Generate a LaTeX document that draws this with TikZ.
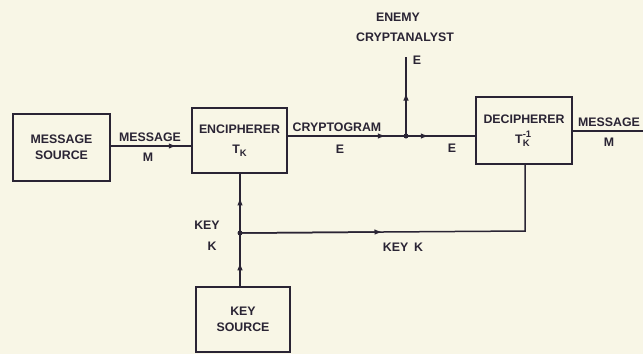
\documentclass[tikz,border=0pt]{standalone}
\usepackage{fontspec}
\setmainfont{Liberation Sans}
\usetikzlibrary{arrows.meta,calc}
\definecolor{paper}{RGB}{248,246,230}
\definecolor{ink}{RGB}{42,36,52}
\newcommand{\lettering}{\fontsize{12.4}{16}\selectfont\bfseries}
\newcommand{\smallletter}{\fontsize{9.5}{10}\selectfont\bfseries}
\begin{document}
\begin{tikzpicture}[x=1bp,y=-1bp,
  box/.style={draw=ink,line width=1.5bp,inner sep=0,align=center,text=ink,
    font=\lettering},
  lbl/.style={text=ink,font=\lettering,inner sep=0},
  wire/.style={draw=ink,line width=1.5bp},
  tip/.style={draw=ink,line width=1.5bp,-{Latex[length=8bp,width=5.5bp]}},
  jdot/.style={circle,fill=ink,inner sep=0,minimum size=5bp}]
\fill[paper] (0,0) rectangle (643,354);
\useasboundingbox (0,0) rectangle (643,354);

% boxes
\node[box,minimum width=97bp,minimum height=67bp] (msrc) at (61.5,147.5) {MESSAGE\\SOURCE};
\node[box,minimum width=95bp,minimum height=65bp] (enc) at (239.5,140.5) {ENCIPHERER\\[4bp]T\raisebox{-3bp}{\smallletter K}};
\node[box,minimum width=96bp,minimum height=67bp] (dec) at (524,130.5) {DECIPHERER\\[4bp]T\makebox[0pt][l]{\raisebox{6bp}{\smallletter -1}}\raisebox{-3bp}{\smallletter K}\hphantom{\smallletter -}};
\node[box,minimum width=94bp,minimum height=65bp] (ksrc) at (243,319.5) {KEY\\SOURCE};

% junctions and free ends
\coordinate (mline) at (150,146);
\node[jdot] (j) at (406,136) {};
\node[jdot] (k) at (240,233) {};
\coordinate (ea) at (406,57);
\coordinate (corner) at (525,231);
\coordinate (mout) at (643,131);

% message line
\draw[wire] (msrc.east |- mline) -- (enc.west |- mline);
\draw[tip] (msrc.east |- mline) -- ($(msrc.east |- mline)!0.82!(enc.west |- mline)$);
% cryptogram
\draw[wire] (enc.east |- j) -- (j.center) -- (dec.west |- j);
\draw[tip] (enc.east |- j) -- ($(enc.east |- j)!0.83!(j.center)$);
\draw[tip] (j.center) -- ($(j.center)!0.33!(dec.west |- j)$);
% to enemy
\draw[wire] (j.center) -- (ea);
\draw[tip] (j.center) -- ($(j.center)!0.55!(ea)$);
% output message
\draw[wire] (dec.east |- mout) -- (mout);
% key lines
\draw[wire] (ksrc.north -| k) -- (enc.south -| k);
\draw[tip] (ksrc.north -| k) -- ($(ksrc.north -| k)!0.45!(k.center)$);
\draw[tip] (k.center) -- ($(k.center)!0.6!(enc.south -| k)$);
\draw[wire] (k.center) -- (corner) -- (dec.south -| corner);
\draw[tip] (k.center) -- ($(k.center)!0.5!(corner)$);

% labels
\node[lbl] (l1) at (150,137) {MESSAGE};
\node[lbl] (l2) at (148,157) {M};
\node[lbl] (l3) at (337,127) {CRYPTOGRAM};
\node[lbl] (l4) at (340,149) {E};
\node[lbl] (l5) at (452,148) {E};
\node[lbl] (l6) at (398,17) {ENEMY};
\node[lbl] (l7) at (405,37) {CRYPTANALYST};
\node[lbl] (l8) at (417,60) {E};
\node[lbl] (l9) at (609,122) {MESSAGE};
\node[lbl] (l10) at (609,142) {M};
\node[lbl] (l11) at (207,225) {KEY};
\node[lbl] (l12) at (212,246) {K};
\node[lbl] (l13) at (403,247) {KEY\hspace{6bp}K};
\end{tikzpicture}
\end{document}
